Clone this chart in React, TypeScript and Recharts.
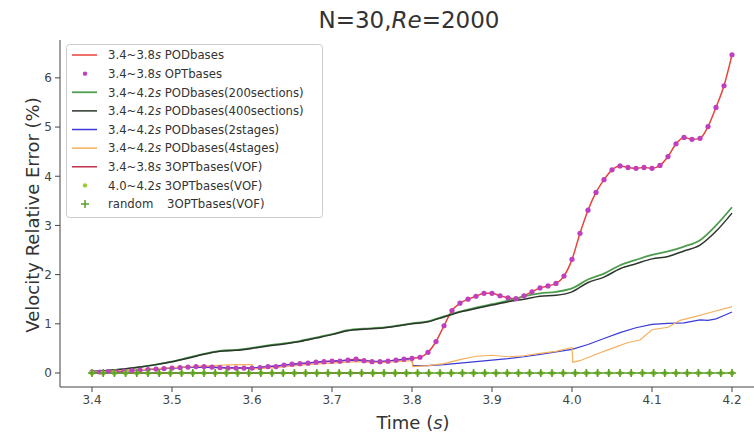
import React from 'react';
import { LineChart, Line, XAxis, YAxis } from 'recharts';

// ---- data ----
const xTicks = [3.4, 3.5, 3.6, 3.7, 3.8, 3.9, 4.0, 4.1, 4.2];
const yTicks = [0, 1, 2, 3, 4, 5, 6];

const optTime = [
  3.40, 3.41, 3.42, 3.43, 3.44, 3.45, 3.46, 3.47, 3.48, 3.49,
  3.50, 3.51, 3.52, 3.53, 3.54, 3.55, 3.56, 3.57, 3.58, 3.59,
  3.60, 3.61, 3.62, 3.63, 3.64, 3.65, 3.66, 3.67, 3.68, 3.69,
  3.70, 3.71, 3.72, 3.73, 3.74, 3.75, 3.76, 3.77, 3.78, 3.79,
  3.80, 3.81, 3.82, 3.83, 3.84, 3.85, 3.86, 3.87, 3.88, 3.89,
  3.90, 3.91, 3.92, 3.93, 3.94, 3.95, 3.96, 3.97, 3.98, 3.99,
  4.00, 4.01, 4.02, 4.03, 4.04, 4.05, 4.06, 4.07, 4.08, 4.09,
  4.10, 4.11, 4.12, 4.13, 4.14, 4.15, 4.16, 4.17, 4.18, 4.19,
  4.20,
];
const optError = [
  0.02, 0.02, 0.03, 0.03, 0.04, 0.05, 0.06, 0.07, 0.08, 0.09,
  0.10, 0.11, 0.12, 0.13, 0.13, 0.12, 0.11, 0.10, 0.10, 0.10,
  0.10, 0.11, 0.13, 0.13, 0.16, 0.18, 0.19, 0.20, 0.22, 0.23,
  0.24, 0.24, 0.26, 0.28, 0.25, 0.23, 0.23, 0.24, 0.26, 0.28,
  0.30, 0.32, 0.42, 0.64, 0.96, 1.27, 1.42, 1.50, 1.56, 1.62,
  1.62, 1.57, 1.53, 1.51, 1.57, 1.65, 1.73, 1.77, 1.82, 1.97,
  2.31, 2.84, 3.31, 3.67, 3.93, 4.13, 4.21, 4.18, 4.16, 4.18,
  4.16, 4.22, 4.40, 4.66, 4.79, 4.75, 4.77, 5.01, 5.40, 5.84,
  6.47,
];

const sectTime = [
  3.40, 3.42, 3.44, 3.46, 3.48, 3.50, 3.52, 3.54, 3.56, 3.58,
  3.60, 3.62, 3.64, 3.66, 3.68, 3.70, 3.72, 3.74, 3.76, 3.78,
  3.80, 3.82, 3.84, 3.86, 3.88, 3.90, 3.92, 3.94, 3.96, 3.98,
  4.00, 4.02, 4.04, 4.06, 4.08, 4.10, 4.12, 4.14, 4.16, 4.18,
  4.20,
];
const sect200Error = [
  0.03, 0.05, 0.08, 0.12, 0.17, 0.23, 0.31, 0.39, 0.45, 0.47,
  0.51, 0.56, 0.60, 0.65, 0.72, 0.79, 0.87, 0.90, 0.92, 0.96,
  1.01, 1.05, 1.15, 1.25, 1.33, 1.40, 1.47, 1.56, 1.62, 1.65,
  1.72, 1.90, 2.02, 2.19, 2.30, 2.40, 2.47, 2.57, 2.70, 3.00,
  3.37,
];
const sect400Error = [
  0.03, 0.05, 0.08, 0.12, 0.17, 0.23, 0.30, 0.38, 0.44, 0.46,
  0.50, 0.55, 0.59, 0.64, 0.71, 0.78, 0.86, 0.89, 0.91, 0.95,
  1.00, 1.04, 1.14, 1.24, 1.31, 1.38, 1.45, 1.50, 1.56, 1.58,
  1.65, 1.84, 1.95, 2.12, 2.22, 2.32, 2.37, 2.48, 2.60, 2.88,
  3.25,
];

const stage2Time = [
  3.40, 3.44, 3.48, 3.52, 3.56, 3.60, 3.64, 3.68, 3.72, 3.74, 3.76, 3.78, 3.80,
  3.801, 3.82, 3.84, 3.86, 3.88, 3.90, 3.92, 3.94, 3.96, 3.98, 4.00,
  4.02, 4.04, 4.06, 4.08, 4.10, 4.12, 4.14, 4.16, 4.17, 4.18, 4.19, 4.20,
];
const stage2Error = [
  0.02, 0.04, 0.08, 0.12, 0.11, 0.10, 0.16, 0.22, 0.26, 0.25, 0.23, 0.26, 0.29,
  0.15, 0.15, 0.17, 0.20, 0.23, 0.26, 0.29, 0.33, 0.38, 0.43, 0.48,
  0.58, 0.70, 0.82, 0.92, 0.99, 1.01, 1.02, 1.08, 1.07, 1.10, 1.17, 1.24,
];

const stage4Time = [
  3.40, 3.45, 3.50, 3.55, 3.58, 3.60, 3.601, 3.63, 3.66, 3.70, 3.73, 3.76, 3.78, 3.80,
  3.801, 3.82, 3.84, 3.86, 3.88, 3.90, 3.92, 3.94, 3.96, 3.98, 4.00,
  4.001, 4.01, 4.03, 4.05, 4.07, 4.085, 4.10, 4.12, 4.135, 4.155, 4.175, 4.20,
];
const stage4Error = [
  0.02, 0.06, 0.11, 0.15, 0.17, 0.17, 0.08, 0.11, 0.16, 0.20, 0.23, 0.21, 0.23, 0.25,
  0.13, 0.15, 0.19, 0.27, 0.34, 0.36, 0.33, 0.35, 0.40, 0.44, 0.52,
  0.22, 0.25, 0.38, 0.50, 0.62, 0.67, 0.88, 0.93, 1.07, 1.15, 1.24, 1.35,
];

const vofTime = [3.40, 3.50, 3.60, 3.70, 3.80];
const vofError = [0, 0, 0, 0, 0];

const randomTime = [
  3.400, 3.414, 3.428, 3.442, 3.456, 3.470, 3.484, 3.498, 3.512, 3.526,
  3.540, 3.554, 3.568, 3.582, 3.596, 3.611, 3.625, 3.639, 3.653, 3.667,
  3.681, 3.695, 3.709, 3.723, 3.737, 3.751, 3.765, 3.779, 3.793, 3.807,
  3.821, 3.835, 3.849, 3.863, 3.877, 3.891, 3.905, 3.919, 3.933, 3.947,
  3.961, 3.975, 3.989, 4.004, 4.018, 4.032, 4.046, 4.060, 4.074, 4.088,
  4.102, 4.116, 4.130, 4.144, 4.158, 4.172, 4.186, 4.200,
];
const randomError = [
  0, 0, 0, 0, 0, 0, 0, 0, 0, 0,
  0, 0, 0, 0, 0, 0, 0, 0, 0, 0,
  0, 0, 0, 0, 0, 0, 0, 0, 0, 0,
  0, 0, 0, 0, 0, 0, 0, 0, 0, 0,
  0, 0, 0, 0, 0, 0, 0, 0, 0, 0,
  0, 0, 0, 0, 0, 0, 0, 0,
];

const legendLabels = [
  ['3.4~3.8', 's', ' PODbases'],
  ['3.4~3.8', 's', ' OPTbases'],
  ['3.4~4.2', 's', ' PODbases(200sections)'],
  ['3.4~4.2', 's', ' PODbases(400sections)'],
  ['3.4~4.2', 's', ' PODbases(2stages)'],
  ['3.4~4.2', 's', ' PODbases(4stages)'],
  ['3.4~3.8', 's', ' 3OPTbases(VOF)'],
  ['4.0~4.2', 's', ' 3OPTbases(VOF)'],
  ['random', '', '3OPTbases(VOF)'],
];

// ---- styles ----
const C = {
  pod: '#e8433a',
  opt: '#bf3fbf',
  s200: '#4e9e4e',
  s400: '#2c372c',
  st2: '#3a3ad6',
  st4: '#f5b05c',
  vof: '#c2304a',
  yg: '#9acd32',
  rnd: '#5a9e2e',
};
const FONT = 'DejaVu Sans, sans-serif';

const zip = (ts: number[], es: number[]) => ts.map((t, i) => ({ t, e: es[i] }));
const optData = zip(optTime, optError);
const s200Data = zip(sectTime, sect200Error);
const s400Data = zip(sectTime, sect400Error);
const st2Data = zip(stage2Time, stage2Error);
const st4Data = zip(stage4Time, stage4Error);
const vofData = zip(vofTime, vofError);
const rndData = zip(randomTime, randomError);

const PlusDot = (props: any) => {
  const { cx, cy, index } = props;
  if (cx == null || cy == null) return <g key={`pl-${index}`} />;
  return (
    <path
      key={`pl-${index}`}
      d={`M${cx - 4},${cy}H${cx + 4}M${cx},${cy - 4}V${cy + 4}`}
      stroke={C.rnd}
      strokeWidth={1.6}
      fill="none"
    />
  );
};

const handle = (i: number, y: number) => {
  const x0 = 72, x1 = 97, xm = 85;
  switch (i) {
    case 0: return <line x1={x0} x2={x1} y1={y} y2={y} stroke={C.pod} strokeWidth={1.5} />;
    case 1: return <circle cx={xm} cy={y} r={2.2} fill={C.opt} />;
    case 2: return <line x1={x0} x2={x1} y1={y} y2={y} stroke={C.s200} strokeWidth={1.8} />;
    case 3: return <line x1={x0} x2={x1} y1={y} y2={y} stroke={C.s400} strokeWidth={1.5} />;
    case 4: return <line x1={x0} x2={x1} y1={y} y2={y} stroke={C.st2} strokeWidth={1.5} />;
    case 5: return <line x1={x0} x2={x1} y1={y} y2={y} stroke={C.st4} strokeWidth={1.5} />;
    case 6: return <line x1={x0} x2={x1} y1={y} y2={y} stroke={C.vof} strokeWidth={1.5} />;
    case 7: return <circle cx={xm} cy={y} r={2.2} fill={C.yg} />;
    default:
      return <path d={`M${xm - 4},${y}H${xm + 4}M${xm},${y - 4}V${y + 4}`} stroke={C.rnd} strokeWidth={1.5} />;
  }
};

export default function App() {
  return (
    <div style={{ position: 'absolute', left: 0, top: 0, width: 754, height: 432, background: '#fff', fontFamily: FONT }}>
      <LineChart width={754} height={432} data={optData} margin={{ top: 40, right: 0, bottom: 0, left: 0 }}>
        <XAxis
          xAxisId="b"
          type="number"
          dataKey="t"
          domain={[3.36, 4.2275]}
          allowDataOverflow
          ticks={xTicks}
          tickFormatter={(v: number) => v.toFixed(1)}
          height={45}
          tickSize={5}
          tickMargin={3}
          tick={{ fontSize: 12, fill: '#444', fontFamily: FONT }}
          axisLine={{ stroke: '#444' }}
          tickLine={{ stroke: '#444' }}
        />
        <XAxis
          xAxisId="top"
          orientation="top"
          type="number"
          dataKey="t"
          domain={[3.36, 4.2275]}
          allowDataOverflow
          height={0}
          tick={false}
          tickLine={false}
          axisLine={{ stroke: '#444' }}
        />
        <YAxis
          type="number"
          domain={[-0.285, 6.77]}
          allowDataOverflow
          ticks={yTicks}
          width={60}
          tickSize={5}
          tickMargin={3}
          tick={{ fontSize: 12, fill: '#444', fontFamily: FONT }}
          axisLine={{ stroke: '#444' }}
          tickLine={{ stroke: '#444' }}
        />
        <Line xAxisId="b" data={optData} dataKey="e" type="monotone" stroke={C.pod} strokeWidth={1.5} dot={false} isAnimationActive={false} />
        <Line xAxisId="b" data={optData} dataKey="e" stroke="none" dot={{ r: 2.6, fill: C.opt, stroke: 'none' }} isAnimationActive={false} />
        <Line xAxisId="b" data={s200Data} dataKey="e" type="monotone" stroke={C.s200} strokeWidth={1.8} dot={false} isAnimationActive={false} />
        <Line xAxisId="b" data={s400Data} dataKey="e" type="monotone" stroke={C.s400} strokeWidth={1.5} dot={false} isAnimationActive={false} />
        <Line xAxisId="b" data={st2Data} dataKey="e" type="linear" stroke={C.st2} strokeWidth={1.2} dot={false} isAnimationActive={false} />
        <Line xAxisId="b" data={st4Data} dataKey="e" type="linear" stroke={C.st4} strokeWidth={1.2} dot={false} isAnimationActive={false} />
        <Line xAxisId="b" data={vofData} dataKey="e" stroke={C.vof} strokeWidth={1.5} dot={false} isAnimationActive={false} />
        <Line xAxisId="b" data={rndData} dataKey="e" stroke="none" dot={{ r: 2.6, fill: C.yg, stroke: 'none' }} isAnimationActive={false} />
        <Line xAxisId="b" data={rndData} dataKey="e" stroke={C.rnd} strokeWidth={1.6} dot={PlusDot} isAnimationActive={false} />
      </LineChart>
      <svg width={754} height={432} style={{ position: 'absolute', left: 0, top: 0, pointerEvents: 'none' }} fontFamily={FONT}>
        <text x={409} y={28} textAnchor="middle" fontSize={23} fill="#333">
          N=30,<tspan fontStyle="italic">Re</tspan>=2000
        </text>
        <text x={413} y={429} textAnchor="middle" fontSize={18} fill="#333">
          Time (<tspan fontStyle="italic">s</tspan>)
        </text>
        <text transform="translate(32,215) rotate(-90)" textAnchor="middle" dominantBaseline="central" fontSize={18} fill="#333">
          Velocity Relative Error (%)
        </text>
        <rect x={66.5} y={44.5} width={256} height={173} rx={3} fill="#fff" fillOpacity={0.85} stroke="#ccc" />
        {legendLabels.map((lab, i) => {
          const y = 55 + i * 18.63;
          return (
            <g key={i}>
              {handle(i, y)}
              {i === 8 ? (
                <>
                  <text x={108} y={y + 4.3} fontSize={11.7} fill="#333">{lab[0]}</text>
                  <text x={167} y={y + 4.3} fontSize={11.7} fill="#333">{lab[2]}</text>
                </>
              ) : (
                <text x={108} y={y + 4.3} fontSize={11.7} fill="#333">
                  {lab[0]}<tspan fontStyle="italic">{lab[1]}</tspan>{lab[2]}
                </text>
              )}
            </g>
          );
        })}
      </svg>
    </div>
  );
}
